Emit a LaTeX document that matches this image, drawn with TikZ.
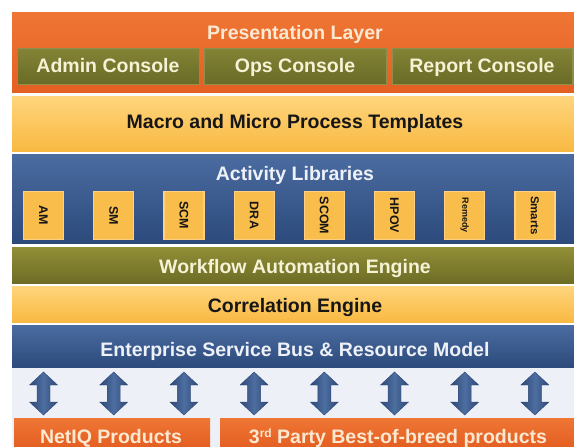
\documentclass[tikz,border=0pt]{standalone}
\usepackage{fontspec}
\setmainfont{Liberation Sans}
\usetikzlibrary{calc}
\definecolor{orTop}{HTML}{EF7634}
\definecolor{orBot}{HTML}{E45F22}
\definecolor{grTop}{HTML}{838436}
\definecolor{grBot}{HTML}{6A6B26}
\definecolor{grEdge}{HTML}{8E8F4C}
\definecolor{wfTop}{HTML}{918F36}
\definecolor{wfBot}{HTML}{6D6C26}
\definecolor{yeTop}{HTML}{FFD57C}
\definecolor{yeBot}{HTML}{F8B942}
\definecolor{blTop}{HTML}{4B6CA1}
\definecolor{blBot}{HTML}{2C4A7B}
\definecolor{libFill}{HTML}{F9BD4C}
\definecolor{libEdge}{HTML}{FFD084}
\definecolor{lightBg}{HTML}{EDF1F7}
\definecolor{arLight}{HTML}{4E6EA1}
\definecolor{arDark}{HTML}{2D4876}
\definecolor{txOr}{HTML}{FDE9D2}
\definecolor{txGr}{HTML}{F5F2D6}
\definecolor{txBl}{HTML}{EEF1F7}
\definecolor{txDk}{HTML}{161616}
\tikzset{
  band/.style={inner sep=0pt, outer sep=0pt, anchor=north west},
  orband/.style={band, shade, top color=orTop, bottom color=orBot},
  yeband/.style={band, shade, top color=yeTop, bottom color=yeBot},
  blband/.style={band, shade, top color=blTop, bottom color=blBot},
  wfband/.style={band, shade, top color=wfTop, bottom color=wfBot},
  console/.style={band, shade, top color=grTop, bottom color=grBot, draw=grEdge, line width=0.8pt},
  ttl/.style={font=\fontsize{19.5}{20}\selectfont\bfseries, inner sep=0pt, anchor=base},
  libbox/.style={inner sep=0pt, draw=libEdge, line width=1.2pt, fill=libFill, minimum width=40pt, minimum height=48pt},
  libtxt/.style={font=\fontsize{12.5}{13}\selectfont\bfseries, rotate=-90, text=txDk, inner sep=0pt},
  dblarrow/.style={shade, left color=arDark, right color=arDark, middle color=arLight, draw=arDark, line width=0.4pt}
}
\begin{document}
\begin{tikzpicture}[x=1pt,y=-1pt]
\useasboundingbox (0,0) rectangle (574,447);
\fill[white] (0,0) rectangle (574,447);
% presentation layer
\node[orband, minimum width=562pt, minimum height=80pt] (pres) at (12,12) {};
\node[ttl, text=txOr] (presT) at (295,39) {Presentation Layer};
\node[console, minimum width=182pt, minimum height=36pt] (adm) at (17,48) {};
\node[console, minimum width=182pt, minimum height=36pt] (ops) at (204,48) {};
\node[console, minimum width=180pt, minimum height=36pt] (rep) at (392,48) {};
\node[ttl, text=txGr] (admT) at (108,72) {Admin Console};
\node[ttl, text=txGr] (opsT) at (295,72) {Ops Console};
\node[ttl, text=txGr] (repT) at (482,72) {Report Console};
% macro
\node[yeband, minimum width=562pt, minimum height=55pt] (macro) at (12,96) {};
\node[ttl, text=txDk] (macroT) at (295,128) {Macro and Micro Process Templates};
% activity libraries
\node[blband, minimum width=562pt, minimum height=89pt] (act) at (12,154) {};
\node[ttl, text=txBl] (actT) at (295,180) {Activity Libraries};
\foreach \n/\t/\f [count=\i from 0] in {am/AM/12.5, sm/SM/12.5, scm/SCM/12.5, dra/DRA/12.5, scom/SCOM/12.5, hpov/HPOV/12.5, remedy/Remedy/9, smarts/Smarts/11.5}{
  \node[libbox] (\n) at ({43.5+70.2*\i},215.5) {};
  \node[libtxt, font=\fontsize{\f}{\f}\selectfont\bfseries] (\n T) at (\n) {\t};
}
% workflow
\node[wfband, minimum width=562pt, minimum height=36pt] (wf) at (12,247) {};
\node[ttl, text=txGr] (wfT) at (295,273) {Workflow Automation Engine};
% correlation
\node[yeband, minimum width=562pt, minimum height=36pt] (corr) at (12,286) {};
\node[ttl, text=txDk] (corrT) at (295,312) {Correlation Engine};
% ESB
\node[blband, minimum width=562pt, minimum height=43pt] (esb) at (12,325) {};
\node[ttl, text=txBl] (esbT) at (295,356) {Enterprise Service Bus \& Resource Model};
% lower area
\node[band, fill=lightBg, minimum width=562pt, minimum height=79pt] (low) at (12,368) {};
\node[orband, minimum width=196pt, minimum height=29pt] (netiq) at (14,418) {};
\node[orband, minimum width=354pt, minimum height=29pt] (third) at (220,418) {};
\node[ttl, text=txOr] (netiqT) at (111,443) {NetIQ Products};
\node[ttl, text=txOr] (thirdT) at (398,443) {3{\fontsize{12}{12}\selectfont\raisebox{5.5pt}{rd}} Party Best-of-breed products};
% arrows
\foreach \i in {0,...,7}{
  \coordinate (ar\i) at ({43.5+70.2*\i},393.5);
  \path[dblarrow] ($(ar\i)+(0,-21.5)$) -- ++(14,13) -- ++(-7.5,0) -- ++(0,17) -- ++(7.5,0)
     -- ($(ar\i)+(0,21.5)$) -- ++(-14,-13) -- ++(7.5,0) -- ++(0,-17) -- ++(-7.5,0) -- cycle;
}
\end{tikzpicture}
\end{document}
